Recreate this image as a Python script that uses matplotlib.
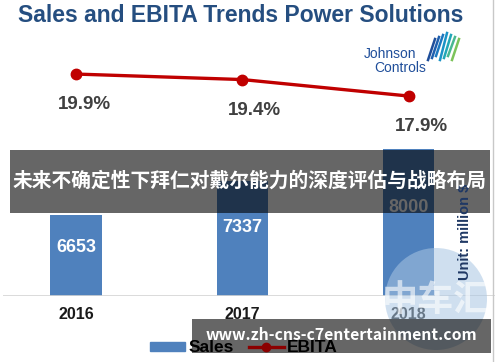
import matplotlib.pyplot as plt
from matplotlib.patches import Rectangle, Ellipse
from matplotlib.lines import Line2D

years = ['2016', '2017', '2018']
sales = [6653, 7337, 8000]
ebita = [19.9, 19.4, 17.9]
ebita_labels = ['19.9%', '19.4%', '17.9%']

plt.rcParams['font.family'] = ['Liberation Sans', 'DejaVu Sans']

W, H = 500, 362
fig = plt.figure(figsize=(W / 100, H / 100), dpi=100)


def fx(px):
    return px / W


def fy(py):
    return 1 - py / H


# main axes: bars
ax = fig.add_axes([fx(3), fy(296), fx(492), (296 - 40) / H])
x = list(range(len(years)))
bars = ax.bar(x, sales, width=0.31, color='#4f81bd', zorder=2)
ax.set_xlim(-0.44, 2.52)
ax.set_ylim(5000, 10220)
ax.axhline(5000, color='#d4d4d4', lw=1.2, zorder=3)
for s in ax.spines.values():
    s.set_visible(False)
ax.set_yticks([])
ax.set_xticks(x)
ax.set_xticklabels(years, fontsize=11.5, fontweight='bold', color='#1a1a1a')
ax.tick_params(axis='x', length=0, pad=8)

for xi, v in zip(x, sales):
    ax.text(xi, 5000 + 0.6 * (v - 5000), str(v), ha='center', va='center',
            color='white', fontsize=13, fontweight='bold', zorder=4)

# EBITA line on twin axis
ax2 = ax.twinx()
ax2.set_ylim(-0.3, 23.0)
ax2.axis('off')
ax2.plot(x, ebita, color='#c00000', lw=2.4, marker='o', markersize=7.5, zorder=5)
for xi, v, lab in zip(x, ebita, ebita_labels):
    ax2.annotate(lab, (xi, v), xytext=(6 + 3 * (xi > 0), -22), textcoords='offset points',
                 ha='center', va='center', fontsize=13.5, fontweight='bold',
                 color='#404040')

# title
fig.text(fx(241), fy(16), 'Sales and EBITA Trends Power Solutions', ha='center',
         va='center', fontsize=16.5, fontweight='bold', color='#254e80')

# Johnson Controls logo
fig.text(fx(390), fy(54), 'Johnson', ha='center', va='center', fontsize=10,
         color='#1f4e9a')
fig.text(fx(400), fy(68), 'Controls', ha='center', va='center', fontsize=10,
         color='#1f4e9a')
logo_cols = ['#1f4e9a', '#1f5fae', '#1c78c0', '#1b93c6', '#22a7b7', '#49b892', '#7cc35a']
for i, c in enumerate(logo_cols):
    x0 = 428 + i * 4
    fig.add_artist(Line2D([fx(x0), fx(x0 + 7)], [fy(60 - i % 3 * 2), fy(33 + abs(3 - i) * 2)],
                          color=c, lw=1.8))

# unit label
fig.text(fx(465), fy(232), 'Unit: million $', rotation=90, ha='center', va='center',
         fontsize=10.5, fontweight='bold', color='#1f3864')

# legend
handles = [Rectangle((0, 0), 1, 1, color='#4f81bd'),
           Line2D([], [], color='#8b0000', lw=2.4, marker='o', markersize=6)]
fig.legend(handles, ['Sales', 'EBITA'], loc='center', bbox_to_anchor=(fx(244), fy(348)),
           ncol=2, frameon=False, handlelength=2.0, handleheight=0.45,
           columnspacing=0.9, handletextpad=0.2,
           prop={'size': 12.5, 'weight': 'bold'})

# right border
fig.add_artist(Line2D([fx(493), fx(493)], [0, 1], color='#c8c8c8', lw=1))

# watermark circle
fig.add_artist(Ellipse((fx(436), fy(299)), fx(102), 102 / H, color='#a9c6e3', alpha=0.55, lw=0))
fig.text(fx(436), fy(300), '中车汇', ha='center', va='center', fontsize=26,
         family=['Noto Sans CJK SC'], fontweight='bold', color='white', alpha=0.6)

# overlay banners
fig.add_artist(Rectangle((fx(10), fy(213)), fx(480), 63 / H, color='black', alpha=0.6, lw=0))
fig.text(fx(250), fy(181), '未来不确定性下拜仁对戴尔能力的深度评估与战略布局', ha='center',
         va='center', fontsize=14.2, fontweight='bold', color='white',
         family=['Noto Sans CJK SC', 'DejaVu Sans'])
fig.add_artist(Rectangle((fx(192), fy(353)), fx(299), 34 / H, color='black', alpha=0.6, lw=0))
fig.text(fx(341), fy(335), 'www.zh-cns-c7entertainment.com', ha='center', va='center',
         fontsize=11.3, fontweight='bold', color='white',
         family=['Noto Sans CJK SC', 'DejaVu Sans'])

fig.savefig('out.png', dpi=100)
